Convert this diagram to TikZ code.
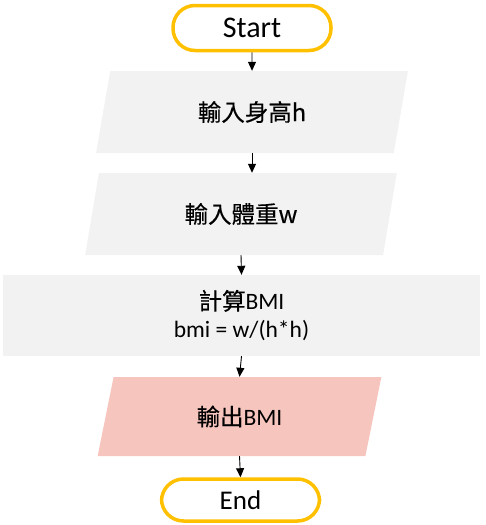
\documentclass[tikz,border=0pt]{standalone}
\usepackage{fontspec}
\setmainfont{Carlito}
\newfontfamily\cjk[FakeBold=0.4]{Noto Sans CJK TC}
\usetikzlibrary{positioning,shapes,arrows.meta}
\definecolor{termgold}{HTML}{FFC000}
\definecolor{boxgray}{HTML}{F2F2F2}
\definecolor{outpink}{HTML}{F6C5BE}

\begin{document}
\begin{tikzpicture}[x=1pt,y=-1pt,
                    terminal/.style={draw=termgold, line width=3.5pt, rounded corners=22pt,
                                     minimum width=158pt, minimum height=45pt, inner sep=0pt},
                    iobox/.style={trapezium, trapezium left angle=76, trapezium right angle=104,
                                  trapezium stretches=true, minimum width=312pt, minimum height=82pt,
                                  inner sep=0pt, fill=boxgray, font=\fontsize{23.5}{28}\selectfont},
                    procbox/.style={rectangle, fill=boxgray, minimum width=477pt, minimum height=81pt,
                                    inner sep=0pt, align=center, font=\fontsize{23.5}{28}\selectfont},
                    flow/.style={-{Triangle[length=9pt,width=8pt]}, line width=0.9pt}]
                \useasboundingbox (0,0) rectangle (485,525);
                \node[terminal, font=\fontsize{30}{34}\selectfont] (start) at (252,28) {Start};
                \node[iobox] (height) at (252,112) {\cjk 輸入身高h};
                \node[iobox] (weight) at (241,214) {\cjk 輸入體重w};
                \node[procbox] (calc) at (241.5,315.5) {{\cjk 計算}BMI\\bmi = w/(h*h)};
                \node[iobox, fill=outpink, minimum width=285pt, minimum height=79pt] (result) at (239.5,416.5) {{\cjk 輸出}BMI};
                \node[terminal, font=\fontsize{27}{32}\selectfont, minimum height=42pt] (stop) at (240.5,500) {End};
                % arrows
                \draw[flow] (start.south) -- (height.north);
                \draw[flow] (height.south) -- (height.south |- weight.north);
                \draw[flow] (weight.south) -- (calc.north);
                \draw[flow] (calc.south) -- (result.north);
                \draw[flow] (result.south) -- (stop.north);
\end{tikzpicture}
\end{document}
